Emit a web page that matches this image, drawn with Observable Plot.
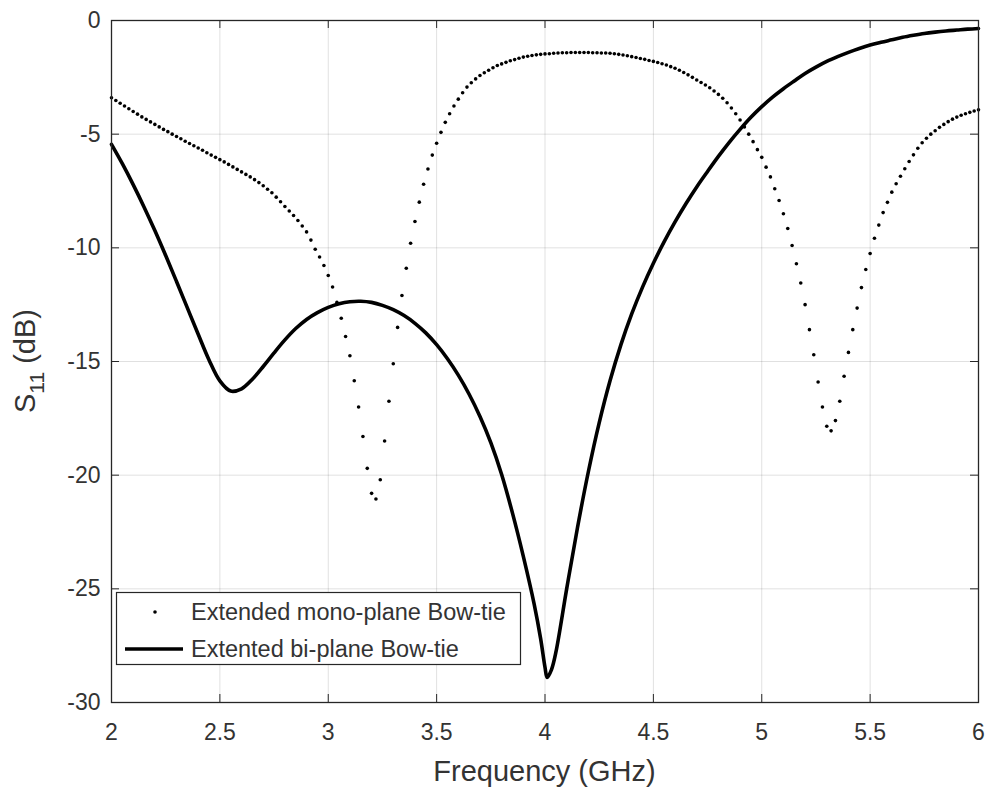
<!DOCTYPE html>
<html>
<head>
<meta charset="utf-8">
<script src="https://cdn.jsdelivr.net/npm/d3@7"></script>
<script src="https://cdn.jsdelivr.net/npm/@observablehq/plot@0.6"></script>
<style>
  html, body { margin: 0; padding: 0; background: #fff; }
  #chart { width: 987px; height: 789px; }
</style>
</head>
<body>
<div id="chart"></div>
<script>
// ---- data ----
const xTicks = [2, 2.5, 3, 3.5, 4, 4.5, 5, 5.5, 6];
const yTicks = [0, -5, -10, -15, -20, -25, -30];

// Extended mono-plane Bow-tie: sweep start / step (GHz) and S11 (dB) samples
const monoStart = 2.0;
const monoStep = 0.02;
const monoS11 = [
  -3.40,-3.52,-3.64,-3.76,-3.88,-4.00,-4.12,-4.24,-4.35,-4.46,
  -4.57,-4.68,-4.79,-4.89,-5.00,-5.10,-5.20,-5.31,-5.41,-5.51,
  -5.61,-5.71,-5.82,-5.92,-6.02,-6.12,-6.22,-6.33,-6.44,-6.55,
  -6.66,-6.77,-6.88,-7.00,-7.13,-7.27,-7.42,-7.58,-7.77,-7.97,
  -8.18,-8.38,-8.58,-8.80,-9.04,-9.30,-9.66,-10.06,-10.40,-10.78,
  -11.22,-11.72,-12.40,-13.10,-13.90,-14.75,-15.85,-17.00,-18.30,-19.70,
  -20.80,-21.05,-20.20,-18.50,-16.75,-15.10,-13.50,-12.10,-10.90,-9.80,
  -8.84,-7.99,-7.20,-6.53,-5.92,-5.40,-4.92,-4.48,-4.10,-3.76,
  -3.46,-3.18,-2.93,-2.74,-2.57,-2.42,-2.30,-2.19,-2.08,-1.98,
  -1.91,-1.84,-1.77,-1.72,-1.66,-1.61,-1.57,-1.54,-1.51,-1.49,
  -1.47,-1.46,-1.44,-1.43,-1.42,-1.42,-1.41,-1.41,-1.41,-1.41,
  -1.41,-1.42,-1.42,-1.43,-1.43,-1.44,-1.46,-1.49,-1.52,-1.55,
  -1.59,-1.63,-1.67,-1.71,-1.76,-1.80,-1.85,-1.90,-1.96,-2.03,
  -2.10,-2.19,-2.29,-2.39,-2.50,-2.62,-2.73,-2.84,-2.96,-3.10,
  -3.25,-3.42,-3.62,-3.85,-4.10,-4.38,-4.68,-5.00,-5.33,-5.68,
  -6.02,-6.45,-6.88,-7.40,-7.92,-8.50,-9.15,-9.90,-10.70,-11.55,
  -12.50,-13.60,-14.70,-15.90,-17.00,-17.85,-18.05,-17.60,-16.75,-15.65,
  -14.60,-13.60,-12.65,-11.75,-10.95,-10.25,-9.58,-9.00,-8.45,-8.00,
  -7.55,-7.18,-6.85,-6.52,-6.20,-5.91,-5.62,-5.38,-5.18,-5.00,
  -4.85,-4.70,-4.57,-4.45,-4.34,-4.25,-4.17,-4.10,-4.04,-3.98,
  -3.93
];

// Extented bi-plane Bow-tie
const biFreq = [
  2.00,2.05,2.10,2.15,2.20,2.25,2.30,2.35,2.40,2.45,
  2.50,2.55,2.60,2.65,2.70,2.75,2.80,2.85,2.90,2.95,
  3.00,3.05,3.10,3.15,3.20,3.25,3.30,3.35,3.40,3.45,
  3.50,3.55,3.60,3.65,3.70,3.75,3.80,3.85,3.90,3.95,
  3.98,4.00,4.01,4.03,4.05,
  4.10,4.15,4.20,4.25,4.30,4.35,4.40,4.45,4.50,4.55,
  4.60,4.65,4.70,4.75,4.80,4.85,4.90,4.95,5.00,5.05,
  5.10,5.15,5.20,5.25,5.30,5.35,5.40,5.45,5.50,5.55,
  5.60,5.65,5.70,5.75,5.80,5.85,5.90,5.95,6.00
];
const biS11 = [
  -5.45,-6.30,-7.22,-8.20,-9.24,-10.34,-11.48,-12.64,-13.80,-14.93,
  -15.85,-16.30,-16.20,-15.78,-15.22,-14.62,-14.05,-13.55,-13.15,-12.85,
  -12.62,-12.46,-12.37,-12.35,-12.40,-12.53,-12.72,-12.98,-13.32,-13.74,
  -14.26,-14.88,-15.60,-16.44,-17.42,-18.57,-19.97,-21.67,-23.57,-25.67,
  -27.20,-28.45,-28.90,-28.55,-27.80,
  -25.00,-22.30,-19.85,-17.70,-15.85,-14.27,-12.91,-11.73,-10.68,-9.73,
  -8.86,-8.06,-7.32,-6.64,-5.98,-5.36,-4.79,-4.26,-3.79,-3.37,
  -3.00,-2.66,-2.33,-2.05,-1.80,-1.59,-1.40,-1.23,-1.08,-0.96,
  -0.85,-0.74,-0.65,-0.57,-0.51,-0.46,-0.42,-0.38,-0.35
];

const monoLabel = "Extended mono-plane Bow-tie";
const biLabel = "Extented bi-plane Bow-tie";
const xLabel = "Frequency (GHz)";

// ---- build tables ----
const mono = monoS11.map((s, i) => ({f: +(monoStart + i * monoStep).toFixed(3), s}));
const bi = biFreq.map((f, i) => ({f, s: biS11[i]}));

const W = 987, H = 789;
const mL = 111, mR = 9, mT = 20, mB = 87;
const innerW = W - mL - mR, innerH = H - mT - mB;
const tickLen = 8;
const fontFam = "'Liberation Sans', Arial, Helvetica, sans-serif";
const fmt = d => String(d);

const svg = Plot.plot({
  width: W, height: H,
  marginLeft: mL, marginRight: mR, marginTop: mT, marginBottom: mB,
  style: {fontFamily: fontFam, fontSize: "23px", color: "#333", background: "#fff", overflow: "visible"},
  x: {domain: [2, 6]},
  y: {domain: [-30, 0]},
  marks: [
    Plot.gridX(xTicks, {stroke: "#000", strokeOpacity: 0.12}),
    Plot.gridY(yTicks, {stroke: "#000", strokeOpacity: 0.12}),
    Plot.tickX(xTicks, {x: d => d, insetTop: innerH - tickLen, stroke: "#262626"}),
    Plot.tickX(xTicks, {x: d => d, insetBottom: innerH - tickLen, stroke: "#262626"}),
    Plot.tickY(yTicks, {y: d => d, insetRight: innerW - tickLen, stroke: "#262626"}),
    Plot.tickY(yTicks, {y: d => d, insetLeft: innerW - tickLen, stroke: "#262626"}),
    Plot.dot(mono, {x: "f", y: "s", r: 1.8, fill: "#000", stroke: "none"}),
    Plot.line(bi, {x: "f", y: "s", stroke: "#000", strokeWidth: 3.6, curve: "catmull-rom"}),
    Plot.frame({stroke: "#262626", strokeWidth: 1.3}),
    Plot.axisX({ticks: xTicks, tickSize: 0, tickPadding: 21, tickFormat: fmt, label: null}),
    Plot.axisY({ticks: yTicks, tickSize: 0, tickPadding: 11, tickFormat: fmt, label: null})
  ]
});

const root = d3.select(svg);

// x label
root.append("text")
  .attr("x", mL + innerW / 2).attr("y", 781)
  .attr("text-anchor", "middle")
  .attr("fill", "#333")
  .style("font-family", fontFam).style("font-size", "29px")
  .text(xLabel);

// y label with subscript
const yl = root.append("text")
  .attr("transform", `translate(35,${mT + innerH / 2}) rotate(-90)`)
  .attr("text-anchor", "middle")
  .attr("fill", "#333")
  .style("font-family", fontFam).style("font-size", "29px");
yl.append("tspan").text("S");
yl.append("tspan").attr("dy", 9).style("font-size", "21px").text("11");
yl.append("tspan").attr("dy", -9).text(" (dB)");

// legend
const lg = root.append("g").attr("text-anchor", "start");
lg.append("rect")
  .attr("x", 116.5).attr("y", 592.5).attr("width", 404).attr("height", 72)
  .attr("fill", "#fff").attr("stroke", "#262626").attr("stroke-width", 1.2);
lg.append("circle").attr("cx", 155).attr("cy", 612).attr("r", 1.8).attr("fill", "#000");
lg.append("line").attr("x1", 125).attr("x2", 183).attr("y1", 649).attr("y2", 649)
  .attr("stroke", "#000").attr("stroke-width", 3.6);
lg.append("text").attr("x", 191).attr("y", 612).attr("dy", "0.35em")
  .attr("text-anchor", "start")
  .attr("fill", "#333").style("font-family", fontFam).style("font-size", "23.5px")
  .text(monoLabel);
lg.append("text").attr("x", 191).attr("y", 649).attr("dy", "0.35em")
  .attr("text-anchor", "start")
  .attr("fill", "#333").style("font-family", fontFam).style("font-size", "23.5px")
  .text(biLabel);

document.getElementById("chart").appendChild(svg);
</script>
</body>
</html>
